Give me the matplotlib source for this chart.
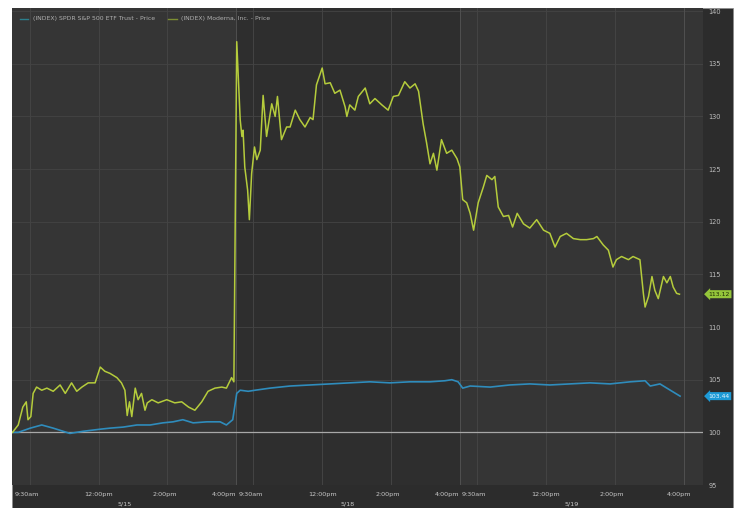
import numpy as np
import matplotlib
matplotlib.use("Agg")
import matplotlib.pyplot as plt
from matplotlib.patches import Rectangle

# trading minutes since the 5/15 open (390 minutes per session)
mrna_t = [0, 10, 18, 24, 27, 32, 36, 42, 51, 60, 71, 83, 92, 103, 112, 121, 132, 144,
          153, 161, 170, 182, 190, 196, 200, 204, 208, 214, 219, 225, 231, 235, 243,
          254, 269, 283, 295, 307, 318, 330, 341, 353, 365, 373, 382, 386,
          391, 394, 397, 400, 402, 405, 410, 413, 417, 422, 426, 432, 437, 443, 452,
          458, 462, 469, 478, 484, 493, 501, 510, 519, 524, 530, 540, 545, 554, 562,
          571, 580, 583, 588, 597, 603, 615, 623, 632, 644, 655, 664, 673, 684, 693,
          702, 708, 716, 722, 728, 734, 740, 748, 757, 766, 775,
          780, 785, 792, 798, 804, 812, 821, 827, 836, 841, 847, 856, 865, 872, 880,
          891, 902, 914, 926, 937, 946, 955, 966, 978, 990, 1001, 1013, 1019, 1030,
          1039, 1047, 1053, 1062, 1074, 1082, 1094, 1100, 1103, 1109, 1115, 1120,
          1126, 1135, 1141, 1147, 1152, 1158, 1163]
mrna_v = [100.0, 100.7, 102.4, 102.9, 101.2, 101.5, 103.7, 104.3, 104.0, 104.2, 103.9,
          104.5, 103.7, 104.7, 103.9, 104.3, 104.7, 104.7,
          106.2, 105.8, 105.6, 105.2, 104.7, 104.0, 101.6, 102.9, 101.5, 104.2, 103.1,
          103.7, 102.1, 102.8, 103.1,
          102.8, 103.1, 102.8, 102.9, 102.4, 102.1, 102.9, 103.9, 104.2, 104.3, 104.2,
          105.2, 104.8,
          137.1, 133.5, 129.7, 128.1, 128.7, 125.2, 123.0, 120.2, 124.6, 127.1, 125.9,
          126.8, 132.0, 128.1, 131.2,
          130.0, 131.9, 127.8, 129.0, 129.0, 130.6, 129.7, 129.0, 129.9, 129.7, 133.0,
          134.6, 133.1, 133.2, 132.2,
          132.5, 130.9, 130.0, 131.1, 130.6, 131.9, 132.7, 131.2, 131.7, 131.1, 130.6,
          131.9, 132.0, 133.3, 132.7,
          133.1, 132.4, 129.3, 127.5, 125.5, 126.5, 124.9, 127.8, 126.5, 126.8, 126.0,
          125.2, 122.1, 121.8, 120.8, 119.2, 121.8, 123.3, 124.4, 124.0, 124.3, 121.4,
          120.5, 120.6, 119.5, 120.8,
          119.8, 119.4, 120.2, 119.2, 118.9, 117.6, 118.6, 118.9, 118.4, 118.3, 118.3,
          118.4, 118.6, 117.8,
          117.3, 115.7, 116.4, 116.7, 116.4, 116.7, 116.4, 113.2, 111.9, 112.9, 114.8,
          113.5,
          112.7, 114.8, 114.2, 114.8, 113.8, 113.2, 113.12]

spy_t = [0, 10, 31, 51, 71, 100, 123, 153, 170, 193, 217, 240, 262, 280, 297, 315, 339,
         362, 373, 384, 391, 397, 411, 423, 449, 484, 519, 554, 588, 623, 658, 693, 728,
         754, 766, 777, 785, 798, 833, 867, 902, 937, 972, 1007, 1042, 1077, 1103, 1112,
         1129, 1147, 1164]
spy_v = [100.0, 100.0, 100.4, 100.7, 100.4, 99.9, 100.1, 100.3, 100.4, 100.5, 100.7,
         100.7, 100.9, 101.0, 101.2, 100.9, 101.0, 101.0, 100.7, 101.2, 103.7, 104.0,
         103.9, 104.0, 104.2, 104.4, 104.5, 104.6, 104.7, 104.8, 104.7, 104.8, 104.8,
         104.9, 105.0, 104.8, 104.2, 104.4, 104.3, 104.5, 104.6, 104.5, 104.6, 104.7,
         104.6, 104.8, 104.9, 104.4, 104.6, 104.0, 103.44]

session_len = 390
dates = ["5/15", "5/18", "5/19"]
time_labels = ["9:30am", "12:00pm", "2:00pm", "4:00pm"]
time_grid = [30, 150, 270, 390]
y_ticks = [95, 100, 105, 110, 115, 120, 125, 130, 135, 140]

spy_name = "(INDEX) SPDR S&P 500 ETF Trust - Price"
mrna_name = "(INDEX) Moderna, Inc. - Price"

W, H = 738, 508
fig = plt.figure(figsize=(W / 100, H / 100), dpi=100)
fig.patch.set_facecolor("white")

# dark panel behind everything
fig.patches.append(Rectangle((12 / W, 0), 721 / W, 500 / H, transform=fig.transFigure,
                             facecolor="#2c2c2c", edgecolor="#8a8a8a", lw=0.5, zorder=-5))

ax = fig.add_axes([12.5 / W, 23 / H, 690.5 / W, 477 / H])
ax.set_zorder(2)
ax.set_facecolor("#353535")
ax.set_xlim(0, 1204)
ax.set_ylim(95, 140.3)

# darker middle session
ax.axvspan(session_len, 2 * session_len, color="#2e2e2e", lw=0, zorder=0)

for y in y_ticks:
    ax.axhline(y, color="#444444", lw=0.6, zorder=1)
ax.axhline(100, color="#a8a8a8", lw=0.9, zorder=2)

for s in range(3):
    for g in time_grid:
        c = "#505050" if g == 390 else "#444444"
        ax.axvline(s * session_len + g, color=c, lw=0.7, zorder=1)

ax.plot(spy_t, spy_v, color="#2f8cbc", lw=1.2, zorder=3)
ax.plot(mrna_t, mrna_v, color="#b5cc3c", lw=1.1, zorder=4)

for sp in ax.spines.values():
    sp.set_visible(False)
ax.set_xticks([])
ax.set_yticks(y_ticks)
ax.yaxis.tick_right()
ax.tick_params(axis="y", length=0, pad=4, labelsize=4.8, labelcolor="#bdbdbd")

# x labels: edge labels nudged so they don't collide at the session breaks
offsets = {"9:30am": -2, "12:00pm": 0, "2:00pm": -2, "4:00pm": -9}
tr = ax.get_xaxis_transform()
for s in range(3):
    for lab, g in zip(time_labels, time_grid):
        off = offsets[lab]
        if s == 2 and lab == "4:00pm":
            off = -3
        ax.annotate(lab, xy=(s * session_len + g, 0), xycoords=tr,
                    xytext=(off, -7), textcoords="offset points",
                    ha="center", va="center", fontsize=4.6, color="#c8c8c8")
    ax.annotate(dates[s], xy=(s * session_len + session_len / 2, 0), xycoords=tr,
                xytext=(0, -13.5), textcoords="offset points",
                ha="center", va="center", fontsize=4.6, color="#c8c8c8")

# legend
ax.plot([0.011, 0.022], [0.977, 0.977], transform=ax.transAxes, color="#2c7f8c",
        lw=1.0, clip_on=False)
ax.text(0.029, 0.977, spy_name, transform=ax.transAxes, fontsize=4.4,
        color="#b0b0b0", va="center")
ax.plot([0.225, 0.238], [0.977, 0.977], transform=ax.transAxes, color="#7d8f33",
        lw=1.0, clip_on=False)
ax.text(0.244, 0.977, mrna_name, transform=ax.transAxes, fontsize=4.4,
        color="#b0b0b0", va="center")

# last-value tags
ax.annotate(f"{mrna_v[-1]:.2f}", xy=(1.0, mrna_v[-1]),
            xycoords=("axes fraction", "data"), xytext=(4, 0),
            textcoords="offset points", ha="left", va="center",
            fontsize=4.4, color="#1e2a05",
            bbox=dict(boxstyle="larrow,pad=0.25", fc="#94c53a", ec="none"))
ax.annotate(f"{spy_v[-1]:.2f}", xy=(1.0, spy_v[-1]),
            xycoords=("axes fraction", "data"), xytext=(4, 0),
            textcoords="offset points", ha="left", va="center",
            fontsize=4.4, color="#e8f6ff",
            bbox=dict(boxstyle="larrow,pad=0.25", fc="#1d9ad6", ec="none"))

fig.savefig("out.png", dpi=100)
